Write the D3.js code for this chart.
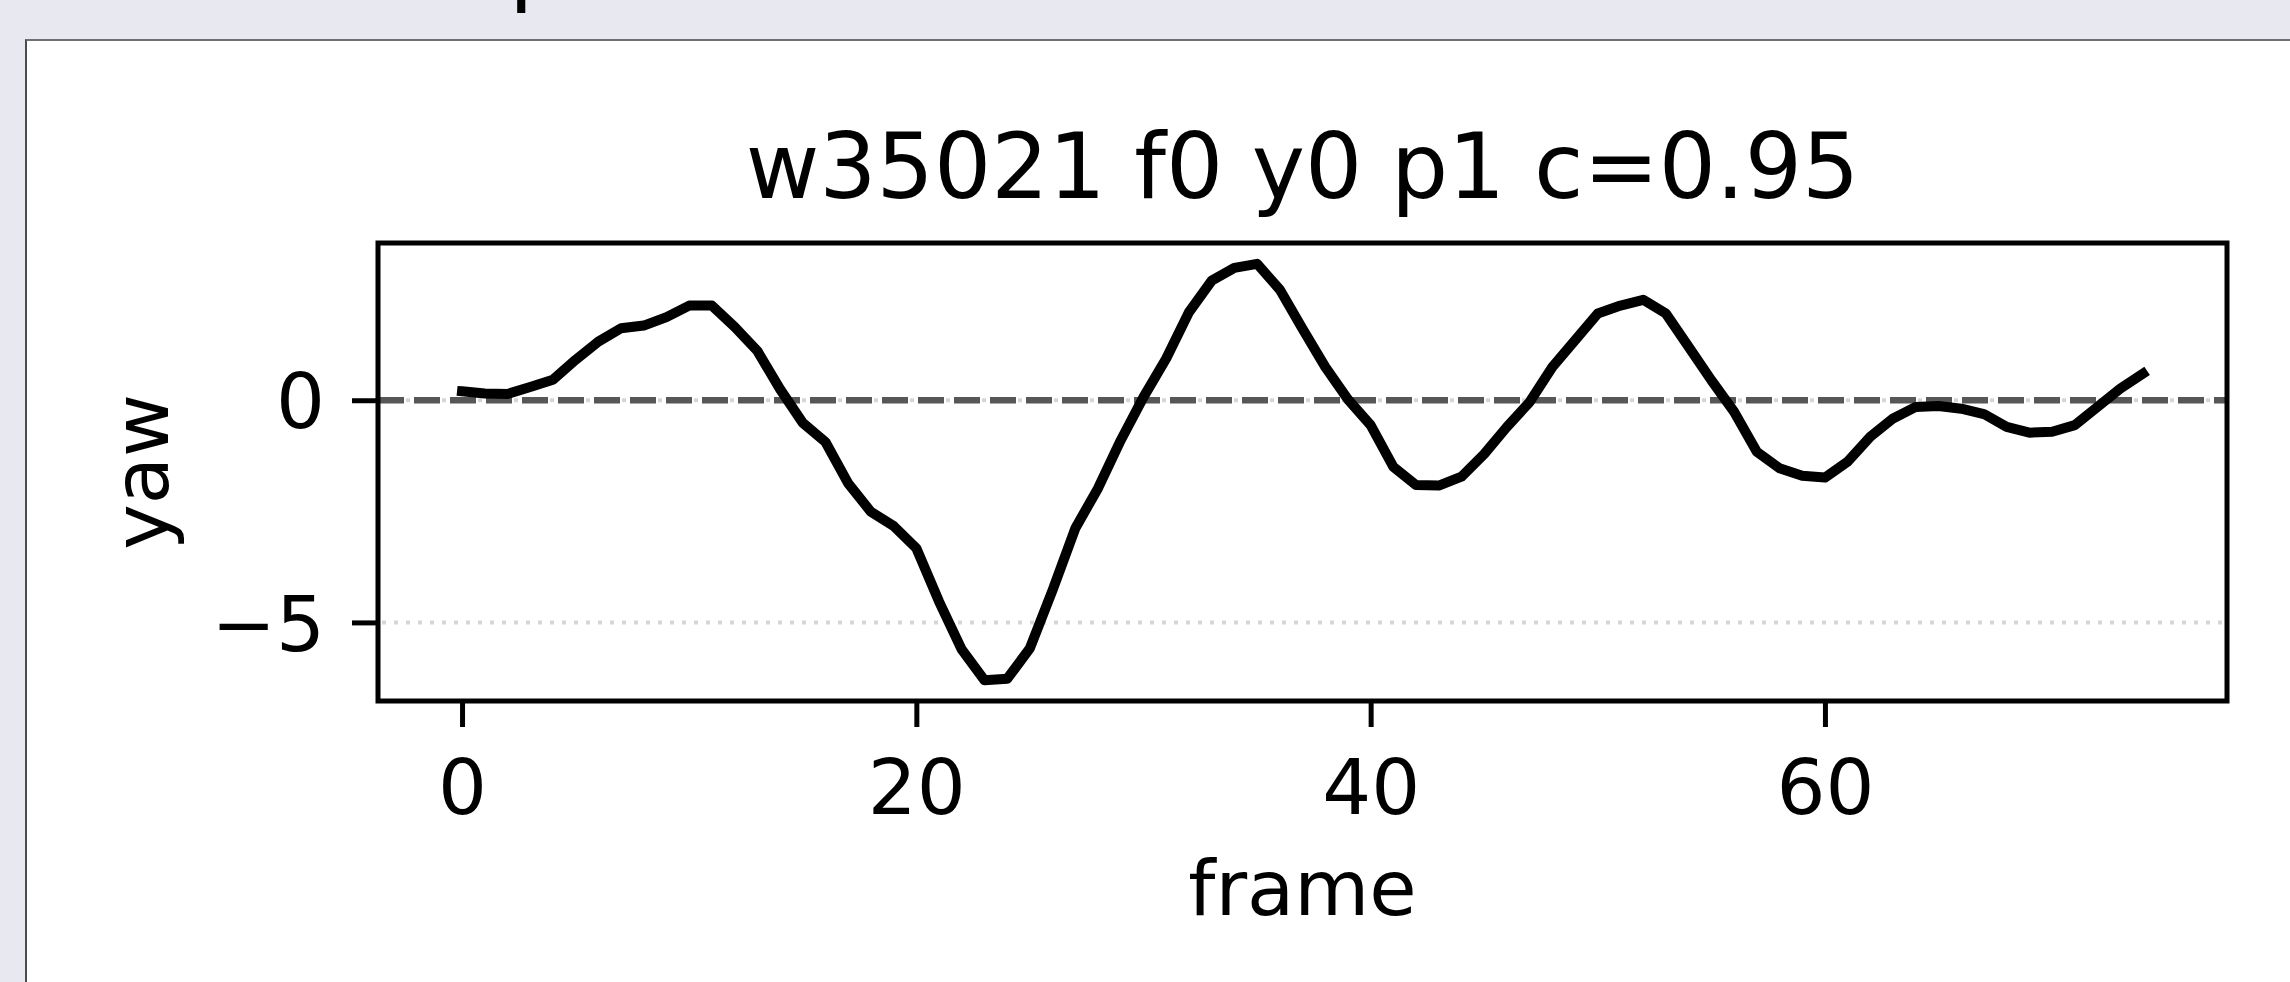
<!DOCTYPE html>
<html lang="en">
<head>
    <meta charset="UTF-8">
    <title>w35021 f0 y0 p1 yaw</title>
    <script src="https://d3js.org/d3.v7.min.js"></script>
    <style>
        body {
            margin: 0;
            width: 2290px;
            height: 982px;
            overflow: hidden;
            background-color: #e8e8f1;
            font-family: "DejaVu Sans", sans-serif;
            position: relative;
        }

        .card {
            position: absolute;
            left: 25px;
            top: 39px;
            width: 2400px;
            height: 1100px;
            background: white;
            border-top: 2px solid #6e6e73;
            border-left: 2px solid #4c4c50;
        }

        svg {
            position: absolute;
            left: 0;
            top: 0;
        }
    </style>
</head>
<body>
<div class="card"></div>
<svg></svg>

<script>
    // per-frame yaw values, frames 0..74
    const yaw = [
        0.20, 0.15, 0.14, 0.30, 0.46, 0.91, 1.32, 1.62, 1.68, 1.87,
        2.13, 2.13, 1.65, 1.11, 0.25, -0.51, -0.94, -1.87, -2.51, -2.83,
        -3.33, -4.53, -5.61, -6.30, -6.27, -5.58, -4.27, -2.88, -1.98, -0.90,
        0.07, 0.94, 1.98, 2.69, 2.98, 3.07, 2.49, 1.61, 0.75, 0.02,
        -0.56, -1.50, -1.91, -1.92, -1.72, -1.21, -0.60, -0.04, 0.75, 1.35,
        1.95, 2.13, 2.26, 1.95, 1.20, 0.45, -0.26, -1.16, -1.53, -1.70,
        -1.74, -1.38, -0.82, -0.41, -0.15, -0.13, -0.19, -0.31, -0.60, -0.73,
        -0.71, -0.56, -0.15, 0.26, 0.60
    ];
    const xTicks = [0, 20, 40, 60];
    const yTicks = [0, -5];
    const zeroLine = 0;
    const title = "w35021 f0 y0 p1 c=0.95";

    const W = 2290, H = 982;
    const margin = { top: 243, right: 63, bottom: 281, left: 378 };
    const width = W - margin.left - margin.right;
    const height = H - margin.top - margin.bottom;

    const svg = d3.select("svg")
        .attr("width", W)
        .attr("height", H);

    // page heading, scrolled almost out of view (only the descender shows)
    svg.append("text")
        .attr("x", 509)
        .attr("y", -6)
        .style("font-size", "90px")
        .text("p");

    const g = svg.append("g")
        .attr("transform", `translate(${margin.left},${margin.top})`);

    // matplotlib-like 5% margins
    const pad = ([a, b]) => [a - (b - a) * 0.05, b + (b - a) * 0.05];

    const x = d3.scaleLinear()
        .domain(pad([0, yaw.length - 1]))
        .range([0, width]);

    const y = d3.scaleLinear()
        .domain(pad(d3.extent(yaw)))
        .range([height, 0]);

    // dotted horizontal grid
    g.selectAll(".grid")
        .data(yTicks)
        .enter()
        .append("line")
        .attr("class", "grid")
        .attr("x1", 0)
        .attr("x2", width)
        .attr("y1", d => y(d))
        .attr("y2", d => y(d))
        .attr("stroke", "#d6d6d6")
        .attr("stroke-width", 4)
        .attr("stroke-dasharray", "4,8")
        .attr("stroke-dashoffset", -4);

    // zero reference line
    g.append("line")
        .attr("x1", 0)
        .attr("x2", width)
        .attr("y1", y(zeroLine))
        .attr("y2", y(zeroLine))
        .attr("stroke", "#575757")
        .attr("stroke-width", 6.5)
        .attr("stroke-dasharray", "26,10");

    const line = d3.line()
        .x((d, i) => x(i))
        .y(d => y(d));

    g.append("path")
        .datum(yaw)
        .attr("d", line)
        .attr("fill", "none")
        .attr("stroke", "#000")
        .attr("stroke-width", 10)
        .attr("stroke-linejoin", "round")
        .attr("stroke-linecap", "square");

    // axes
    const xAxis = g.append("g")
        .attr("transform", `translate(0,${height})`)
        .call(d3.axisBottom(x).tickValues(xTicks).tickSize(26).tickPadding(32));

    const yAxis = g.append("g")
        .call(d3.axisLeft(y).tickValues(yTicks).tickSize(26).tickPadding(27));

    [xAxis, yAxis].forEach(a => {
        a.select(".domain").remove();
        a.selectAll("line").attr("stroke", "#000").attr("stroke-width", 5);
        a.selectAll("text")
            .attr("fill", "#000")
            .style("font-family", "'DejaVu Sans', sans-serif")
            .style("font-size", "77px");
    });
    yAxis.selectAll("text").attr("dy", "0.36em");

    // spines
    g.append("rect")
        .attr("width", width)
        .attr("height", height)
        .attr("fill", "none")
        .attr("stroke", "#000")
        .attr("stroke-width", 5);

    g.append("text")
        .attr("x", width / 2)
        .attr("y", -45)
        .attr("text-anchor", "middle")
        .style("font-size", "90px")
        .text(title);

    g.append("text")
        .attr("x", width / 2)
        .attr("y", 915 - margin.top)
        .attr("text-anchor", "middle")
        .style("font-size", "77px")
        .text("frame");

    g.append("text")
        .attr("transform", "rotate(-90)")
        .attr("x", -height / 2)
        .attr("y", 168 - margin.left)
        .attr("text-anchor", "middle")
        .style("font-size", "77px")
        .text("yaw");
</script>
</body>
</html>
